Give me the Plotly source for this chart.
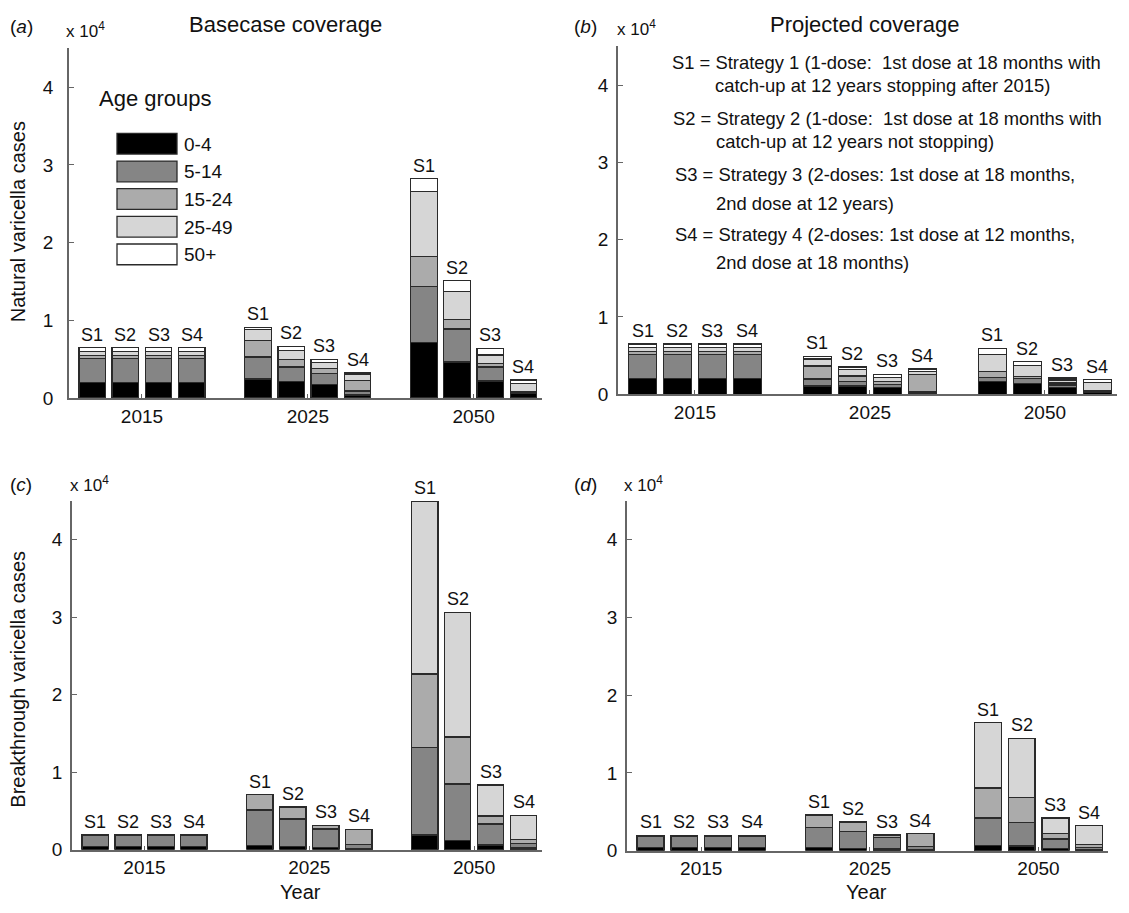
import plotly.graph_objects as go

# ---------------- data ----------------
age_groups = ["0-4", "5-14", "15-24", "25-49", "50+"]
years = ["2015", "2025", "2050"]
strategies = ["S1", "S2", "S3", "S4"]
colors = ["#000000", "#858585", "#ababab", "#d6d6d6", "#ffffff"]

# order: 2015 S1..S4, 2025 S1..S4, 2050 S1..S4  (cases)
a_04 = [2000, 2000, 2000, 2000, 2450, 2100, 1800, 400, 7200, 4650, 2200, 600]
a_514 = [3100, 3100, 3100, 3100, 2850, 1900, 1400, 500, 7200, 4250, 1800, 150]
a_1524 = [400, 400, 400, 400, 2100, 1000, 600, 1400, 3800, 1250, 450, 100]
a_2549 = [500, 500, 500, 500, 1400, 1100, 800, 700, 8350, 3600, 1100, 1000]
a_50 = [500, 500, 500, 500, 300, 550, 400, 250, 1700, 1350, 850, 500]

b_04 = [2000, 2000, 2000, 2000, 1050, 1050, 850, 150, 1600, 1350, 900, 300]
b_514 = [3100, 3100, 3100, 3100, 900, 600, 400, 200, 600, 650, 300, 100]
b_1524 = [400, 400, 400, 400, 1700, 700, 400, 2200, 700, 300, 250, 100]
b_2549 = [500, 500, 500, 500, 900, 850, 550, 400, 2200, 1400, 400, 1000]
b_50 = [500, 500, 500, 500, 350, 300, 350, 300, 850, 500, 250, 400]

c_04 = [400, 400, 400, 400, 500, 400, 300, 100, 1900, 1200, 600, 200]
c_514 = [1400, 1400, 1400, 1400, 4600, 3550, 2350, 600, 11300, 7270, 2700, 600]
c_1524 = [100, 100, 100, 100, 2000, 1550, 500, 1900, 9450, 6050, 1050, 500]
c_2549 = [50, 50, 50, 50, 0, 0, 0, 0, 22350, 16100, 4000, 3150]
c_50 = [0, 0, 0, 0, 0, 0, 0, 0, 0, 0, 0, 0]

d_04 = [400, 400, 400, 400, 400, 300, 200, 100, 700, 600, 300, 100]
d_514 = [1400, 1400, 1400, 1400, 2600, 2200, 1500, 400, 3500, 3000, 1200, 300]
d_1524 = [100, 100, 100, 100, 1600, 1200, 300, 1700, 3860, 3200, 700, 400]
d_2549 = [50, 50, 50, 50, 0, 0, 0, 0, 8400, 7660, 2000, 2400]
d_50 = [0, 0, 0, 0, 0, 0, 0, 0, 0, 0, 0, 0]

y_ticks = [0, 10000, 20000, 30000, 40000]
y_ticktext = ["0", "1", "2", "3", "4"]

strategy_lines = [
    ("S1 = Strategy 1 (1-dose:  1st dose at 18 months with", 670, 63),
    ("catch-up at 12 years stopping after 2015)", 713, 87),
    ("S2 = Strategy 2 (1-dose:  1st dose at 18 months with", 671, 120),
    ("catch-up at 12 years not stopping)", 714, 143),
    ("S3 = Strategy 3 (2-doses: 1st dose at 18 months,", 673, 177),
    ("2nd dose at 12 years)", 714, 206),
    ("S4 = Strategy 4 (2-doses: 1st dose at 12 months,", 673, 237),
    ("2nd dose at 18 months)", 714, 266),
]

# ---------------- layout helpers ----------------
W, H = 1129, 913
FONT = "Liberation Sans, Arial, sans-serif"


def px(x):
    return x / W


def py(y):
    return 1 - y / H


# bar positions: 4 bars per year group, groups 5 units apart
positions = []
for g in range(3):
    for s in range(4):
        positions.append(5 * g + s + 1)
group_centers = [2.5, 7.5, 12.5]
labels = strategies * 3

panels = [
    ("x", "y", [a_04, a_514, a_1524, a_2549, a_50]),
    ("x2", "y2", [b_04, b_514, b_1524, b_2549, b_50]),
    ("x3", "y3", [c_04, c_514, c_1524, c_2549, c_50]),
    ("x4", "y4", [d_04, d_514, d_1524, d_2549, d_50]),
]

fig = go.Figure()
annotations = []
for xa, ya, series in panels:
    for name, vals, col in zip(age_groups, series, colors):
        fig.add_trace(go.Bar(
            x=positions, y=vals, name=name, xaxis=xa, yaxis=ya,
            width=0.8, marker=dict(color=col, line=dict(color="#2a2a2a", width=1.3)),
            showlegend=False, hoverinfo="skip",
        ))
    totals = [sum(v) for v in zip(*series)]
    for p, t, lab in zip(positions, totals, labels):
        annotations.append(dict(
            x=p, y=t, xref=xa, yref=ya, text=lab, showarrow=False,
            yanchor="bottom", yshift=1, font=dict(size=18, color="#111", family=FONT),
        ))

domains = {
    "x": ([px(69), px(542)], [py(403), py(49)]),
    "x2": ([px(618), px(1117)], [py(399), py(47)]),
    "x3": ([px(72), px(542)], [py(860), py(507)]),
    "x4": ([px(627), px(1108)], [py(861), py(507)]),
}
y_standoff = {"x": 10, "x2": 4, "x3": 4, "x4": 4}

axis_color = "#666666"
layout = dict(
    width=W, height=H, margin=dict(l=0, r=0, t=0, b=0),
    paper_bgcolor="white", plot_bgcolor="white",
    barmode="stack", showlegend=False,
    font=dict(family=FONT, color="#111", size=19),
)
for i, key in enumerate(["x", "x2", "x3", "x4"]):
    suffix = "" if i == 0 else str(i + 1)
    xd, yd = domains[key]
    layout["xaxis" + suffix] = dict(
        domain=xd, range=[0.3, 14.56], anchor="y" + suffix,
        tickvals=group_centers, ticktext=years, ticks="inside", ticklen=4,
        tickcolor=axis_color, showline=True, linecolor=axis_color, linewidth=1.5,
        showgrid=False, zeroline=False, tickfont=dict(size=19, family=FONT, color="#111"),
        fixedrange=True,
    )
    layout["yaxis" + suffix] = dict(
        domain=yd, range=[0, 45000], anchor="x" + suffix,
        tickvals=y_ticks, ticktext=y_ticktext, ticks="inside", ticklen=5,
        tickcolor=axis_color, showline=True, linecolor=axis_color, linewidth=1.5,
        showgrid=False, zeroline=False, tickfont=dict(size=19, family=FONT, color="#111"),
        ticklabelstandoff=y_standoff[key], fixedrange=True,
    )


def paper_text(text, x, y, size=19, xanchor="center", angle=0):
    return dict(text=text, x=px(x), y=py(y), xref="paper", yref="paper",
                showarrow=False, xanchor=xanchor, yanchor="middle", textangle=angle,
                font=dict(size=size, family=FONT, color="#111"))


# panel letters, multipliers, titles
annotations += [
    paper_text("(<i>a</i>)", 21, 27, 19),
    paper_text("(<i>b</i>)", 585, 27, 19),
    paper_text("(<i>c</i>)", 21, 490, 19),
    paper_text("(<i>d</i>)", 585, 490, 19),
    paper_text("x 10<sup>4</sup>", 64, 30, 17, "left"),
    paper_text("x 10<sup>4</sup>", 615, 28, 17, "left"),
    paper_text("x 10<sup>4</sup>", 68, 490, 17, "left"),
    paper_text("x 10<sup>4</sup>", 622, 490, 17, "left"),
    paper_text("Basecase coverage", 285, 25, 22),
    paper_text("Projected coverage", 865, 25, 22),
    paper_text("Natural varicella cases", 18, 225, 20, angle=-90),
    paper_text("Breakthrough varicella cases", 18, 688, 20, angle=-90),
    paper_text("Year", 300, 903, 20),
    paper_text("Year", 866, 903, 20),
    paper_text("Age groups", 97, 100, 22, "left"),
]
for txt, x, y in strategy_lines:
    annotations.append(paper_text(txt, x, y, 18.4, "left"))

# legend swatches (paper coords)
shapes = []
leg_top = 135
for i, (name, col) in enumerate(zip(age_groups, colors)):
    y0 = leg_top + i * 28
    shapes.append(dict(type="rect", xref="paper", yref="paper",
                       x0=px(117), x1=px(177), y0=py(y0 + 21), y1=py(y0),
                       fillcolor=col, line=dict(color="#2a2a2a", width=1.3)))
    annotations.append(paper_text(name, 182, y0 + 11, 19, "left"))

layout["annotations"] = annotations
layout["shapes"] = shapes
fig.update_layout(**layout)
fig.write_html(
    "out.html",
    config={"displayModeBar": False},
    post_script="document.body.style.margin='0';document.body.style.overflow='hidden';",
)
